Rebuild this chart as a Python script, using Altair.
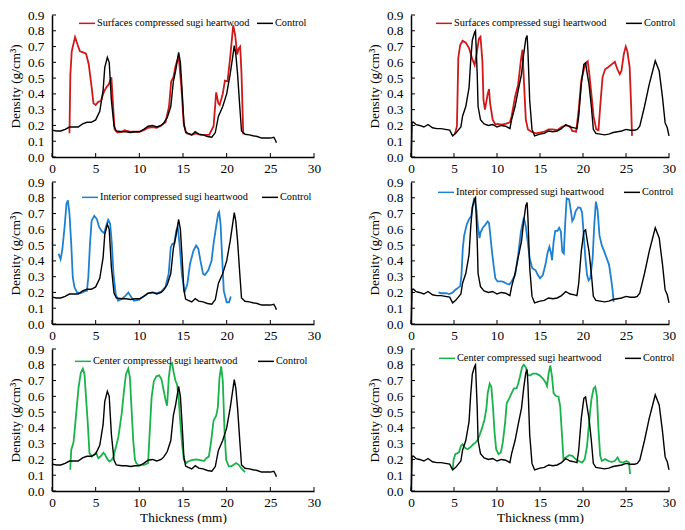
import pandas as pd
import altair as alt

# --- data (thickness mm, density g/cm3) ---
x_ticks = [0, 5, 10, 15, 20, 25, 30]
y_ticks = [0.0, 0.1, 0.2, 0.3, 0.4, 0.5, 0.6, 0.7, 0.8, 0.9]

# control, left column
ctrl_l_x = [0, 0.5, 1.0, 1.5, 2.0, 2.5, 3.0, 3.5, 4.0, 4.5, 5.0, 5.47, 5.85, 6.04, 6.34, 6.55, 6.8, 7.1,
            7.36, 8.0, 8.5, 9.0, 9.5, 10.0, 10.5, 11.0, 11.5, 12.0, 12.5, 12.8, 13.2, 13.6, 13.9, 14.15,
            14.5, 14.7, 14.9, 15.1, 15.3, 15.6, 16.0, 16.4, 16.8, 17.3, 17.8, 18.3, 18.7, 19.05, 19.55,
            20.0, 20.4, 20.65, 20.87, 21.05, 21.25, 21.5, 21.7, 22.1, 22.6, 23.0, 23.5, 24.0, 24.5, 25.0,
            25.4, 25.6, 25.7]
ctrl_l_y = [0.17, 0.165, 0.165, 0.175, 0.19, 0.19, 0.19, 0.21, 0.22, 0.22, 0.235, 0.29, 0.42, 0.566,
            0.632, 0.6, 0.36, 0.196, 0.165, 0.16, 0.16, 0.155, 0.16, 0.16, 0.175, 0.195, 0.2, 0.19, 0.2,
            0.216, 0.25, 0.32, 0.48, 0.545, 0.663, 0.6, 0.42, 0.216, 0.158, 0.15, 0.14, 0.16, 0.145, 0.14,
            0.13, 0.125, 0.155, 0.257, 0.32, 0.40, 0.525, 0.62, 0.706, 0.65, 0.525, 0.32, 0.165, 0.144,
            0.14, 0.135, 0.13, 0.12, 0.12, 0.12, 0.125, 0.105, 0.09]

# control, right column
ctrl_r_x = [0.02, 0.12, 0.3, 0.6, 1.0, 1.5, 1.98, 2.5, 3.0, 3.5, 4.0, 4.5, 4.84, 5.2, 5.5, 5.8, 6.0, 6.37,
            6.75, 6.94, 7.13, 7.4, 7.5, 7.7, 7.8, 8.08, 8.5, 9.0, 9.5, 10.0, 10.5, 11.0, 11.5, 11.7, 12.1,
            12.46, 12.85, 13.1, 13.35, 13.5, 13.6, 13.8, 14.07, 14.37, 15.0, 15.5, 16.0, 16.5, 17.0, 17.5,
            18.0, 18.5, 19.0, 19.3, 19.5, 19.8, 20.1, 20.3, 20.5, 20.7, 20.97, 21.2, 21.5, 22.0, 22.5,
            23.0, 23.5, 24.0, 24.5, 25.0, 25.5, 26.0, 26.3, 26.6, 27.15, 27.7, 28.1, 28.4, 28.86, 29.24,
            29.55, 29.8, 30.0]
ctrl_r_y = [0.0, 0.22, 0.22, 0.205, 0.2, 0.19, 0.206, 0.185, 0.18, 0.18, 0.175, 0.17, 0.134, 0.15, 0.17,
            0.19, 0.26, 0.32, 0.44, 0.61, 0.74, 0.79, 0.80, 0.525, 0.32, 0.237, 0.21, 0.2, 0.206, 0.19,
            0.2, 0.195, 0.18, 0.237, 0.32, 0.42, 0.525, 0.65, 0.75, 0.77, 0.67, 0.36, 0.175, 0.134, 0.145,
            0.15, 0.165, 0.16, 0.165, 0.18, 0.206, 0.19, 0.185, 0.18, 0.257, 0.46, 0.587, 0.597, 0.525,
            0.46, 0.32, 0.175, 0.15, 0.145, 0.14, 0.145, 0.155, 0.16, 0.165, 0.175, 0.17, 0.17, 0.175,
            0.196, 0.32, 0.46, 0.545, 0.61, 0.545, 0.38, 0.216, 0.185, 0.134]

# surfaces compressed
surf_l_x = [2.0, 2.1, 2.26, 2.64, 2.94, 3.2, 3.5, 3.9, 4.2, 4.5, 4.75, 5.0, 5.3, 5.6, 5.85, 6.2, 6.5, 6.8,
            7.0, 7.17, 7.5, 8.0, 8.3, 9.0, 10.0, 10.5, 11.0, 11.5, 12.0, 12.5, 13.0, 13.4, 13.65, 13.9,
            14.15, 14.5, 14.8, 15.1, 15.4, 16.0, 16.5, 17.0, 17.5, 18.0, 18.5, 18.8, 19.05, 19.2, 19.55,
            19.8, 20.1, 20.4, 20.75, 20.98, 21.2, 21.4, 21.55, 21.7, 21.9]
surf_l_y = [0.15, 0.52, 0.67, 0.76, 0.71, 0.67, 0.665, 0.655, 0.59, 0.46, 0.34, 0.33, 0.35, 0.355, 0.40,
            0.44, 0.46, 0.505, 0.32, 0.175, 0.155, 0.16, 0.17, 0.16, 0.16, 0.17, 0.185, 0.19, 0.185, 0.2,
            0.22, 0.32, 0.48, 0.505, 0.577, 0.64, 0.45, 0.2, 0.15, 0.14, 0.15, 0.14, 0.14, 0.14, 0.195,
            0.41, 0.34, 0.33, 0.40, 0.484, 0.48, 0.63, 0.835, 0.77, 0.65, 0.69, 0.70, 0.525, 0.144]
surf_r_x = [5.1, 5.34, 5.5, 5.72, 6.0, 6.37, 6.75, 7.13, 7.4, 7.62, 7.9, 8.08, 8.3, 8.43, 8.6, 8.92, 9.07,
            9.2, 9.5, 9.8, 10.06, 10.5, 11.0, 11.5, 11.7, 12.1, 12.46, 12.77, 12.96, 13.15, 13.35, 13.6,
            14.0, 14.5, 15.0, 15.5, 16.0, 16.5, 17.0, 17.5, 18.0, 18.5, 18.75, 19.2, 19.5, 19.8, 20.1,
            20.35, 20.55, 20.74, 20.97, 21.23, 21.54, 21.8, 22.0, 22.27, 22.57, 22.95, 23.33, 23.7, 24.0,
            24.28, 24.47, 24.74, 24.97, 25.16, 25.43, 25.6, 25.7]
surf_r_y = [0.144, 0.195, 0.628, 0.71, 0.737, 0.725, 0.69, 0.62, 0.583, 0.65, 0.75, 0.762, 0.61, 0.36,
            0.30, 0.40, 0.43, 0.34, 0.237, 0.206, 0.21, 0.205, 0.21, 0.22, 0.257, 0.38, 0.46, 0.61, 0.68,
            0.46, 0.237, 0.175, 0.16, 0.15, 0.155, 0.16, 0.175, 0.175, 0.17, 0.19, 0.2, 0.195, 0.165, 0.16,
            0.30, 0.484, 0.556, 0.597, 0.607, 0.525, 0.40, 0.257, 0.175, 0.17, 0.32, 0.505, 0.556, 0.57,
            0.587, 0.603, 0.556, 0.525, 0.545, 0.65, 0.70, 0.67, 0.566, 0.32, 0.134]

# interior compressed
int_l_x = [0.76, 0.98, 1.17, 1.44, 1.66, 1.82, 2.0, 2.2, 2.38, 2.57, 2.87, 3.2, 3.5, 3.8, 4.0, 4.16, 4.35,
           4.54, 4.84, 5.14, 5.4, 5.7, 5.98, 6.17, 6.43, 6.66, 6.85, 7.04, 7.3, 7.57, 8.0, 8.44, 8.74,
           9.08, 9.38, 10.0, 10.5, 11.0, 11.5, 12.0, 12.5, 12.98, 13.36, 13.6, 13.8, 14.0, 14.23, 14.4,
           14.6, 14.87, 15.17, 15.5, 15.8, 16.2, 16.5, 16.76, 17.0, 17.3, 17.5, 17.9, 18.27, 18.5, 18.84,
           19.03, 19.14, 19.3, 19.5, 19.67, 20.0, 20.28, 20.47]
int_l_y = [0.445, 0.41, 0.466, 0.614, 0.762, 0.784, 0.70, 0.51, 0.296, 0.233, 0.20, 0.195, 0.20, 0.21,
           0.21, 0.296, 0.51, 0.656, 0.686, 0.665, 0.614, 0.589, 0.576, 0.614, 0.66, 0.635, 0.51, 0.318,
           0.19, 0.148, 0.16, 0.18, 0.20, 0.17, 0.148, 0.155, 0.175, 0.195, 0.2, 0.195, 0.205, 0.233,
           0.318, 0.487, 0.51, 0.51, 0.593, 0.614, 0.51, 0.318, 0.20, 0.254, 0.38, 0.466, 0.497, 0.476,
           0.40, 0.318, 0.31, 0.34, 0.40, 0.51, 0.635, 0.70, 0.71, 0.635, 0.40, 0.21, 0.138, 0.138, 0.174]
int_r_x = [3.2, 3.5, 4.08, 4.46, 4.84, 5.1, 5.4, 5.72, 5.87, 6.02, 6.18, 6.48, 6.75, 7.0, 7.24, 7.36, 7.62,
           7.78, 7.97, 8.08, 8.35, 8.65, 8.92, 9.07, 9.23, 9.42, 9.6, 9.8, 10.06, 10.5, 10.75, 11.13,
           11.44, 11.7, 12.1, 12.46, 12.77, 13.11, 13.34, 13.53, 13.8, 14.1, 14.49, 14.75, 15.0, 15.33,
           15.63, 15.9, 16.09, 16.28, 16.4, 16.58, 16.77, 17.04, 17.23, 17.42, 17.6, 17.77, 17.92, 18.1,
           18.38, 18.57, 18.75, 18.95, 19.14, 19.44, 19.71, 19.9, 20.09, 20.28, 20.47, 20.66, 20.85,
           21.12, 21.3, 21.5, 21.69, 21.92, 22.19, 22.49, 22.76, 23.03, 23.26, 23.45, 23.56]
int_r_y = [0.20, 0.195, 0.195, 0.19, 0.2, 0.214, 0.226, 0.24, 0.31, 0.478, 0.56, 0.63, 0.665, 0.684,
           0.766, 0.80, 0.72, 0.62, 0.544, 0.58, 0.61, 0.63, 0.65, 0.64, 0.56, 0.457, 0.375, 0.29, 0.27,
           0.27, 0.267, 0.255, 0.25, 0.27, 0.31, 0.437, 0.58, 0.673, 0.62, 0.54, 0.416, 0.354, 0.34, 0.31,
           0.29, 0.31, 0.375, 0.457, 0.49, 0.45, 0.405, 0.52, 0.59, 0.59, 0.61, 0.587, 0.457, 0.447, 0.63,
           0.797, 0.79, 0.725, 0.653, 0.673, 0.714, 0.74, 0.735, 0.704, 0.56, 0.416, 0.31, 0.276, 0.29,
           0.416, 0.62, 0.776, 0.725, 0.56, 0.498, 0.457, 0.416, 0.375, 0.29, 0.21, 0.14]

# center compressed
cen_l_x = [2.09, 2.2, 2.47, 2.77, 3.04, 3.3, 3.53, 3.72, 3.9, 4.1, 4.29, 4.56, 4.82, 5.05, 5.3, 5.58, 5.89,
           6.08, 6.27, 6.57, 6.84, 7.03, 7.33, 7.6, 7.98, 8.24, 8.47, 8.73, 8.92, 9.1, 9.3, 9.5, 9.68,
           10.0, 10.5, 11.0, 11.2, 11.4, 11.66, 11.96, 12.27, 12.53, 12.8, 13.03, 13.18, 13.37, 13.56,
           13.75, 13.94, 14.13, 14.32, 14.5, 14.7, 14.93, 15.1, 15.38, 15.57, 16.0, 16.5, 17.0, 17.4,
           17.66, 17.96, 18.23, 18.5, 18.8, 18.99, 19.18, 19.37, 19.56, 19.75, 19.94, 20.24, 20.51,
           20.81, 21.08, 21.38, 21.65, 22.1]
cen_l_y = [0.135, 0.26, 0.31, 0.49, 0.655, 0.75, 0.775, 0.74, 0.59, 0.426, 0.24, 0.218, 0.23, 0.243,
           0.208, 0.22, 0.243, 0.23, 0.208, 0.187, 0.197, 0.218, 0.28, 0.343, 0.49, 0.634, 0.74, 0.775,
           0.72, 0.53, 0.32, 0.198, 0.173, 0.165, 0.165, 0.177, 0.385, 0.59, 0.696, 0.727, 0.733, 0.71,
           0.634, 0.57, 0.54, 0.717, 0.80, 0.81, 0.75, 0.70, 0.675, 0.59, 0.426, 0.28, 0.197, 0.177, 0.187,
           0.195, 0.2, 0.195, 0.19, 0.208, 0.218, 0.32, 0.447, 0.478, 0.53, 0.717, 0.79, 0.696, 0.385,
           0.197, 0.156, 0.156, 0.166, 0.177, 0.166, 0.146, 0.12]
cen_r_x = [4.84, 4.96, 5.15, 5.41, 5.6, 5.8, 6.0, 6.25, 6.56, 6.86, 7.24, 7.5, 7.78, 8.0, 8.27, 8.54, 8.77,
           8.92, 9.15, 9.34, 9.53, 9.72, 9.9, 10.18, 10.45, 10.67, 10.94, 11.13, 11.44, 11.7, 11.97,
           12.27, 12.46, 12.66, 12.92, 13.11, 13.34, 13.6, 13.88, 14.18, 14.56, 14.95, 15.33, 15.63,
           15.82, 16.0, 16.2, 16.4, 16.58, 16.85, 17.15, 17.35, 17.54, 17.73, 18.0, 18.38, 18.76, 19.14,
           19.52, 19.9, 20.2, 20.47, 20.74, 20.97, 21.23, 21.43, 21.62, 21.8, 22.0, 22.19, 22.57, 22.95,
           23.33, 23.7, 24.02, 24.28, 24.66, 25.05, 25.35, 25.47]
cen_r_y = [0.135, 0.20, 0.233, 0.24, 0.248, 0.285, 0.296, 0.275, 0.265, 0.275, 0.296, 0.306, 0.327, 0.358,
           0.40, 0.452, 0.525, 0.62, 0.68, 0.66, 0.535, 0.369, 0.265, 0.233, 0.244, 0.306, 0.431, 0.556,
           0.588, 0.62, 0.65, 0.65, 0.68, 0.723, 0.785, 0.80, 0.785, 0.733, 0.733, 0.744, 0.744, 0.733,
           0.713, 0.69, 0.665, 0.744, 0.796, 0.723, 0.62, 0.602, 0.598, 0.535, 0.369, 0.202, 0.2125,
           0.227, 0.223, 0.202, 0.19, 0.18, 0.202, 0.285, 0.452, 0.577, 0.65, 0.66, 0.598, 0.39, 0.223,
           0.19, 0.202, 0.19, 0.185, 0.19, 0.2125, 0.185, 0.18, 0.19, 0.18, 0.108]

SURF = "Surfaces compressed sugi heartwood"
INT = "Interior compressed sugi heartwood"
CEN = "Center compressed sugi heartwood"
FONT = "Liberation Serif"
H = 142


def frame(xs, ys, name):
    return pd.DataFrame({"x": xs, "y": ys, "series": name, "i": range(len(xs))})


def panel(cx, cy, sx, sy, name, color, w, lx, ly, cpad, xtitle):
    xenc = alt.X("x:Q", scale=alt.Scale(domain=[0, 30], nice=False),
                 axis=alt.Axis(values=x_ticks, format="d", title=xtitle))
    yenc = alt.Y("y:Q", scale=alt.Scale(domain=[0, 0.9], nice=False),
                 axis=alt.Axis(values=y_ticks, format=".1f", title="Density (g/cm³)"))
    col = alt.Color("series:N",
                    scale=alt.Scale(domain=[name, "Control"], range=[color, "black"]),
                    legend=alt.Legend(orient="none", legendX=lx, legendY=ly, direction="horizontal",
                                      columns=2, title=None, symbolType="stroke", symbolSize=256,
                                      symbolStrokeWidth=1.5, labelFont=FONT, labelFontSize=10.3,
                                      labelColor="black", labelLimit=300, labelOffset=1,
                                      columnPadding=cpad, padding=0))
    s = alt.Chart(frame(sx, sy, name)).mark_line(strokeWidth=1.8).encode(
        x=xenc, y=yenc, color=col, order="i:Q")
    c = alt.Chart(frame(cx, cy, "Control")).mark_line(strokeWidth=1.4).encode(
        x=xenc, y=yenc, color=col, order="i:Q")
    xt = alt.Chart(pd.DataFrame({"x": x_ticks})).mark_rule(color="black").encode(
        x=xenc, y=alt.value(H), y2=alt.value(H - 4))
    yt = alt.Chart(pd.DataFrame({"y": y_ticks})).mark_rule(color="black").encode(
        y=yenc, x=alt.value(0), x2=alt.value(4))
    return alt.layer(s, c, xt, yt).properties(width=w, height=H)


def row(a, b):
    return alt.hconcat(a, b, spacing=46).resolve_scale(
        color="independent", x="independent", y="independent").resolve_legend(color="independent")


RED, BLUE, GREEN = "#d01818", "#1f80d0", "#19b24b"

r1 = row(panel(ctrl_l_x, ctrl_l_y, surf_l_x, surf_l_y, SURF, RED, 262, 26, -1, 4, None),
         panel(ctrl_r_x, ctrl_r_y, surf_r_x, surf_r_y, SURF, RED, 258, 24, -1, 16, None))
r2 = row(panel(ctrl_l_x, ctrl_l_y, int_l_x, int_l_y, INT, BLUE, 262, 29, 6, 11, None),
         panel(ctrl_r_x, ctrl_r_y, int_r_x, int_r_y, INT, BLUE, 258, 26, 1, 17, None))
r3 = row(panel(ctrl_l_x, ctrl_l_y, cen_l_x, cen_l_y, CEN, GREEN, 262, 22, 3, 17, "Thickness (mm)"),
         panel(ctrl_r_x, ctrl_r_y, cen_r_x, cen_r_y, CEN, GREEN, 258, 27, 0, 20, "Thickness (mm)"))

chart = alt.vconcat(r1, r2, r3, spacing=0).resolve_scale(
    color="independent").resolve_legend(color="independent").properties(
    padding=0).configure_view(stroke=None).configure_axis(
    grid=False, ticks=False, domainColor="black", domainWidth=1.5,
    labelFont=FONT, labelFontSize=13.3, labelColor="black", labelFlush=False, labelOverlap=False,
    titleFont=FONT, titleFontSize=13.3, titleFontWeight="normal", titleColor="black"
).configure_axisX(labelPadding=4, titlePadding=2).configure_axisY(labelPadding=8, titlePadding=5)

chart.save("out.html", embed_options={"renderer": "svg", "actions": False})
